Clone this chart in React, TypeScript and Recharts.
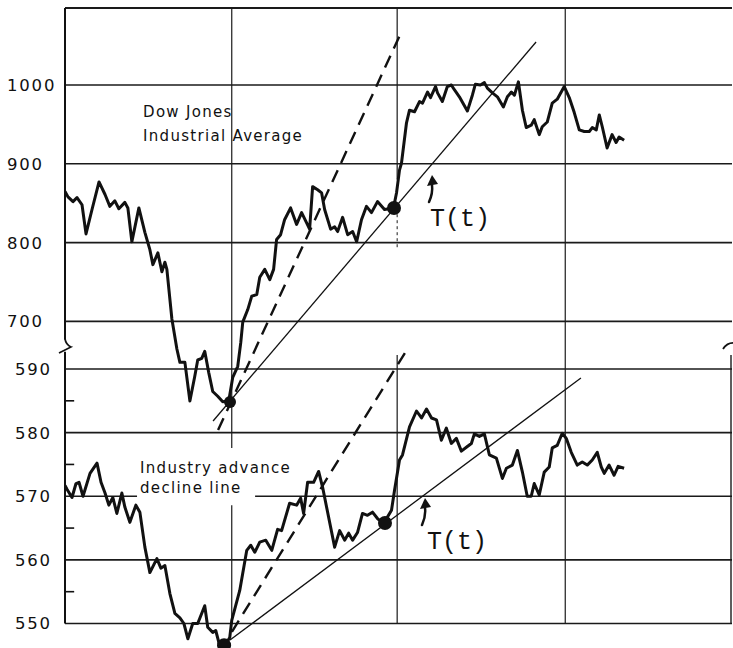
import React from 'react';
import { ComposedChart, Line, XAxis, YAxis, ReferenceLine, ReferenceDot } from 'recharts';

// Dow Jones Industrial Average trace: [time, index]
const dowPoints: [number, number][] = [
  [0, 865], [1.8, 858], [4.8, 852], [7.2, 857], [10.2, 848], [12.6, 811], [16.2, 842], [20.4, 877],
  [24, 861], [26.9, 846], [29.9, 853], [32.3, 843], [35.9, 851], [37.7, 844], [40.1, 801], [44.3, 844],
  [47.9, 813], [50.9, 791], [52.7, 772], [55.7, 787], [58.1, 763], [59.9, 775], [61.1, 766], [64.1, 703],
  [67.1, 665], [68.9, 648], [71.9, 648], [74.9, 599], [77.8, 630], [79.6, 651], [82, 653], [83.8, 662],
  [86.2, 635], [88.6, 611], [91.6, 605], [94.6, 598], [98.2, 599], [100.6, 629], [103.6, 643], [105.4, 673],
  [106.6, 699], [109.6, 715], [112, 732], [115, 734], [116.8, 756], [119.8, 766], [122.8, 753], [125.1, 766],
  [126.9, 804], [129.3, 810], [131.7, 829], [135.3, 844], [138.9, 823], [141.9, 838], [144.9, 825], [146.7, 817],
  [148.5, 871], [151.5, 867], [153.9, 863], [155.7, 842], [159.3, 817], [161.7, 820], [163.5, 814], [166.5, 832],
  [169.5, 810], [172.5, 814], [174.9, 801], [177.8, 829], [180.8, 846], [183.8, 838], [187.4, 852], [191.6, 842],
  [197, 844], [198.8, 863], [200.6, 892], [201.8, 901], [204.8, 952], [206.6, 968], [209.6, 966], [212.6, 979],
  [214.4, 977], [217.4, 991], [219.2, 984], [222.2, 998], [223.4, 990], [226.3, 979], [229.3, 998], [231.7, 1000],
  [233.5, 994], [236.5, 985], [241.3, 967], [244.3, 987], [246.1, 1001], [249.1, 1000], [251.5, 1003], [253.3, 996],
  [256.3, 990], [259.3, 985], [262.9, 972], [265.3, 985], [267.7, 991], [269.5, 987], [271.9, 1004], [274.3, 968],
  [276.6, 946], [279.6, 949], [281.4, 956], [284.4, 937], [286.2, 947], [289.2, 953], [292.2, 977], [295.2, 982],
  [299.4, 998], [302.4, 984], [305.4, 965], [308.4, 943], [311.4, 941], [314.4, 941], [316.2, 946], [318.6, 943],
  [320.4, 962], [322.2, 947], [325.1, 920], [328.1, 937], [330.5, 927], [332.3, 934], [335.3, 930],
];

// Industry advance-decline line trace: [time, value]
const adPoints: [number, number][] = [
  [0, 571.7], [1.2, 571.1], [4.2, 569.8], [6.6, 572], [8.4, 572.2], [10.8, 570], [15, 573.6], [19.2, 575.2],
  [21.6, 572.2], [24, 570.5], [26.3, 568.6], [28.7, 569.8], [31.1, 567.3], [34.1, 570.5], [35.9, 568.3], [38.9, 565.9],
  [42.5, 568.6], [44.9, 567.5], [47.9, 562], [50.9, 558], [55.1, 560.2], [57.5, 558.7], [59.9, 559.1], [62.9, 554.7],
  [65.9, 551.6], [68.9, 550.9], [71.3, 550], [73.7, 547.6], [76.6, 550], [79.6, 550], [83.8, 552.8], [85.6, 549.4],
  [88.6, 548.6], [90.4, 548.9], [92.8, 546.5], [95.8, 546.5], [98.8, 547.8], [100, 550.5], [104.8, 555.2], [109, 561.5],
  [111.4, 562.3], [113.8, 561.2], [116.8, 562.8], [120.4, 563.1], [124, 561.5], [127.5, 564.8], [129.9, 564.6], [134.7, 568.9],
  [138.9, 568.6], [141.3, 569.7], [143.1, 567.3], [145.5, 572.2], [149.1, 572.2], [152.1, 573.9], [154.5, 571.4], [161.7, 562],
  [164.7, 564.6], [167.7, 563.1], [170.1, 564.2], [172.5, 563.1], [175.4, 564.3], [178.4, 567.3], [181.4, 567], [184.4, 567.5],
  [187.4, 566.5], [191, 565.7], [195.8, 567.8], [197.6, 570.9], [200.6, 575.7], [202.4, 576.5], [206.6, 580.9], [210.8, 583.4],
  [213.8, 582.3], [216.8, 583.7], [219.8, 582.3], [222.8, 582], [225.7, 578.8], [228.7, 580.7], [231.7, 578.3], [234.7, 579.1],
  [237.7, 577.1], [240.7, 577.7], [243.7, 578.3], [245.5, 579.8], [248.5, 579.4], [251.5, 579.8], [254.5, 576.5], [258.7, 576],
  [262.3, 572.8], [264.7, 574.4], [268.3, 574.9], [271.3, 577.2], [274.3, 573.8], [277.2, 570], [279.6, 570], [281.4, 572],
  [284.4, 570.2], [287.4, 573.8], [290.4, 574.6], [292.2, 577.6], [295.2, 578], [298.2, 579.9], [300.6, 579.1], [303.6, 576.9],
  [307.2, 574.9], [310.2, 575.4], [313.2, 574.9], [316.2, 575.7], [319.2, 576.9], [321.6, 574.6], [323.4, 573.6], [326.3, 574.9],
  [329.3, 573.3], [331.7, 574.7], [335.3, 574.4],
];

// trend lines: [[t1, v1], [t2, v2]]
const dowFastTrend: [number, number][] = [[91.8, 562.2], [200.9, 1063.5]];
const dowSlowTrend: [number, number][] = [[88.8, 573.6], [282.5, 1054.6]];
const adFastTrend: [number, number][] = [[100.1, 548.7], [205.7, 593.3]];
const adSlowTrend: [number, number][] = [[98.95, 547.4], [309.4, 588.6]];

// touch points: [t, value, radius]
const dowTouches: [number, number, number][] = [[98.95, 597.7, 6], [197.3, 843.9, 7]];
const adTouches: [number, number, number][] = [[95.4, 546.6, 7], [191.9, 565.8, 7]];

const dowTicks = [700, 800, 900, 1000];
const adTicks = [550, 560, 570, 580, 590];
const adMinorTicks = [555, 565, 575, 585];
const dowGrid = [700, 800, 900, 1000];
const adGrid = [550, 560, 580, 590];
const verticalGrid = [100, 199.2, 300];

const DOW_DOMAIN: [number, number] = [285.5, 1097.7];
const AD_DOMAIN: [number, number] = [546.15, 646.74];

const INK = '#111';
const GRID = '#1a1a1a';
const LABEL_FONT = '"DejaVu Sans", sans-serif';

const rows = (pts: [number, number][]) => pts.map(([x, v]) => ({ x, v }));
const seg = (pts: [number, number][]) => pts.map(([x, y]) => ({ x, y }));

const DowTick = (props: any) => (
  <text x={7} y={props.y} dy="0.36em" textAnchor="start" fontFamily={LABEL_FONT} fontSize={16.5}
    letterSpacing={1.8} fill={INK}>{props.payload.value}</text>
);
const AdTick = (props: any) => (
  <text x={15} y={props.y} dy="0.36em" textAnchor="start" fontFamily={LABEL_FONT} fontSize={16.5}
    letterSpacing={1.8} fill={INK}>{props.payload.value}</text>
);

const twoLine = (a: string, b: string, gap: number) => (props: any) => (
  <text x={props.cx} y={props.cy} fontFamily={LABEL_FONT} fontSize={15} letterSpacing={1.3} fill={INK}>
    <tspan x={props.cx}>{a}</tspan>
    <tspan x={props.cx} dy={gap}>{b}</tspan>
  </text>
);

const tLabel = (ax: number) => (props: any) => {
  const { cx, cy } = props;
  return (
    <g>
      <path d={`M${cx + ax - 1},${cy - 24} Q${cx + ax + 3},${cy - 33} ${cx + ax + 2},${cy - 41}`}
        stroke={INK} strokeWidth={2.5} fill="none" strokeLinecap="round" />
      <path d={`M${cx + ax - 3},${cy - 40} L${cx + ax + 8},${cy - 42} L${cx + ax + 2},${cy - 51} Z`} fill={INK} />
      <text x={cx} y={cy} fontFamily='"Liberation Mono", monospace' fontSize={25} fill={INK}>T(t)</text>
    </g>
  );
};

const leftBreak = (props: any) => {
  const { cx, cy } = props;
  return (
    <path d={`M${cx},${cy - 7} Q${cx + 1},${cy - 1} ${cx + 6},${cy + 1} L${cx - 6},${cy + 7}`}
      stroke={INK} strokeWidth={1.8} fill="none" />
  );
};
const rightBreak = (props: any) => {
  const { cx, cy } = props;
  return (
    <path d={`M${cx - 8},${cy + 3} Q${cx - 4},${cy - 3} ${cx + 2},${cy - 3}`}
      stroke={INK} strokeWidth={1.8} fill="none" />
  );
};

export default function App() {
  return (
    <div style={{ position: 'absolute', left: 0, top: 0, width: 733, height: 648, background: '#fff' }}>
      <ComposedChart width={733} height={648} margin={{ top: 8, right: 0, bottom: 0, left: 0 }}>
        <XAxis dataKey="x" type="number" domain={[0, 400]} allowDataOverflow hide />
        <YAxis yAxisId="dow" orientation="left" width={65} domain={DOW_DOMAIN} allowDataOverflow
          ticks={dowTicks} tick={<DowTick />} tickLine={false} axisLine={false} interval={0} />
        <YAxis yAxisId="ad" orientation="right" width={1} domain={AD_DOMAIN} allowDataOverflow
          ticks={adTicks} tick={<AdTick />} tickLine={false} axisLine={false} interval={0} />

        {/* horizontal grid */}
        <ReferenceLine yAxisId="dow" y={DOW_DOMAIN[1]} stroke={GRID} strokeWidth={2} />
        {dowGrid.map((g) => (
          <ReferenceLine key={`dg${g}`} yAxisId="dow" y={g} stroke={GRID} strokeWidth={1.6} />
        ))}
        {adGrid.map((g) => (
          <ReferenceLine key={`ag${g}`} yAxisId="ad" y={g} stroke={GRID} strokeWidth={1.6} />
        ))}
        <ReferenceLine yAxisId="ad" segment={seg([[0, 570], [43.2, 570]])} stroke={GRID} strokeWidth={1.6} />
        <ReferenceLine yAxisId="ad" segment={seg([[114, 570], [400, 570]])} stroke={GRID} strokeWidth={1.6} />

        {/* left axis with break */}
        <ReferenceLine yAxisId="dow" segment={seg([[0, DOW_DOMAIN[1]], [0, 677]])} stroke={INK} strokeWidth={2} />
        <ReferenceLine yAxisId="ad" segment={seg([[0, 592.7], [0, 550]])} stroke={INK} strokeWidth={2} />
        {adMinorTicks.map((t) => (
          <ReferenceLine key={`mt${t}`} yAxisId="ad" segment={seg([[0, t], [5.5, t]])} stroke={INK} strokeWidth={1.6} />
        ))}
        <ReferenceDot yAxisId="dow" x={0} y={668.8} r={1} shape={leftBreak} />
        <ReferenceDot yAxisId="dow" x={399.4} y={668.8} r={1} shape={rightBreak} />
        <ReferenceLine yAxisId="ad" segment={seg([[399.4, 592.2], [399.4, 550]])} stroke={GRID} strokeWidth={1.4} />

        {/* vertical grid */}
        <ReferenceLine yAxisId="ad" segment={seg([[verticalGrid[0], AD_DOMAIN[1]], [verticalGrid[0], 577.6]])} stroke={GRID} strokeWidth={1.2} />
        <ReferenceLine yAxisId="ad" segment={seg([[verticalGrid[0], 568.6], [verticalGrid[0], 550]])} stroke={GRID} strokeWidth={1.2} />
        <ReferenceLine yAxisId="dow" segment={seg([[verticalGrid[1], DOW_DOMAIN[1]], [verticalGrid[1], 880]])} stroke={GRID} strokeWidth={1.2} />
        <ReferenceLine yAxisId="dow" segment={seg([[verticalGrid[1], 836], [verticalGrid[1], 790.6]])} stroke={GRID} strokeWidth={1} strokeDasharray="3 3" />
        <ReferenceLine yAxisId="ad" segment={seg([[verticalGrid[1], 592.2], [verticalGrid[1], 550]])} stroke={GRID} strokeWidth={1.2} />
        <ReferenceLine yAxisId="ad" segment={seg([[verticalGrid[2], AD_DOMAIN[1]], [verticalGrid[2], 550]])} stroke={GRID} strokeWidth={1.2} />

        {/* trend lines */}
        <ReferenceLine yAxisId="dow" segment={seg(dowFastTrend)} stroke={INK} strokeWidth={2.4} strokeDasharray="13 8" />
        <ReferenceLine yAxisId="dow" segment={seg(dowSlowTrend)} stroke={INK} strokeWidth={1.3} />
        <ReferenceLine yAxisId="ad" segment={seg(adFastTrend)} stroke={INK} strokeWidth={2.4} strokeDasharray="13 8" />
        <ReferenceLine yAxisId="ad" segment={seg(adSlowTrend)} stroke={INK} strokeWidth={1.3} />

        {/* series */}
        <Line data={rows(dowPoints)} dataKey="v" yAxisId="dow" type="linear" stroke={INK} strokeWidth={3}
          strokeLinejoin="round" dot={false} activeDot={false} isAnimationActive={false} />
        <Line data={rows(adPoints)} dataKey="v" yAxisId="ad" type="linear" stroke={INK} strokeWidth={3}
          strokeLinejoin="round" dot={false} activeDot={false} isAnimationActive={false} />

        {/* touch points */}
        {dowTouches.map(([x, y, r]) => (
          <ReferenceDot key={`dd${x}`} yAxisId="dow" x={x} y={y} r={r} fill={INK} stroke="none" />
        ))}
        {adTouches.map(([x, y, r]) => (
          <ReferenceDot key={`ad${x}`} yAxisId="ad" x={x} y={y} r={r} fill={INK} stroke="none" />
        ))}

        {/* annotations */}
        <ReferenceDot yAxisId="dow" x={46.8} y={959.4} r={1} shape={twoLine('Dow Jones', 'Industrial Average', 24)} />
        <ReferenceDot yAxisId="ad" x={45} y={573.7} r={1} shape={twoLine('Industry advance', 'decline line', 20)} />
        <ReferenceDot yAxisId="dow" x={218.9} y={821} r={1} shape={tLabel(0)} />
        <ReferenceDot yAxisId="ad" x={217.1} y={561.7} r={1} shape={tLabel(-4)} />
      </ComposedChart>
    </div>
  );
}
